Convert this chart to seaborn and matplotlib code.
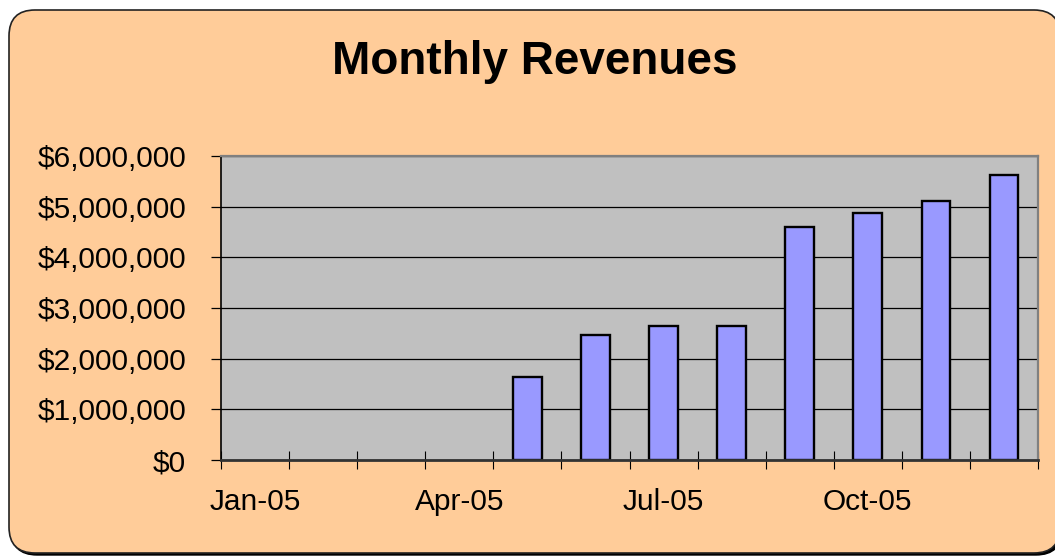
import numpy as np
import pandas as pd
import seaborn as sns
import matplotlib.pyplot as plt
from matplotlib.patches import FancyBboxPatch
from matplotlib.transforms import IdentityTransform
from matplotlib.ticker import FuncFormatter, MultipleLocator

# data
months = ["Jan-05", "Feb-05", "Mar-05", "Apr-05", "May-05", "Jun-05",
          "Jul-05", "Aug-05", "Sep-05", "Oct-05", "Nov-05", "Dec-05"]
revenue = [0, 0, 0, 0, 1630000, 2470000, 2650000, 2650000,
           4600000, 4880000, 5110000, 5620000]
shown_labels = months[::3]

df = pd.DataFrame({"month": months, "revenue": revenue})

plt.rcParams["font.family"] = ["Liberation Sans", "DejaVu Sans"]

fig = plt.figure(figsize=(10.55, 5.59), dpi=100)
fig.patch.set_facecolor("white")

# rounded chart-area background with a small shadow (pixel coords)
shadow = FancyBboxPatch((11, 4), 1051, 543, boxstyle="round,pad=0,rounding_size=26",
                        transform=IdentityTransform(), facecolor="black",
                        edgecolor="black", lw=1, zorder=-2)
panel = FancyBboxPatch((9, 6), 1051, 543, boxstyle="round,pad=0,rounding_size=26",
                       transform=IdentityTransform(), facecolor="#FFCC99",
                       edgecolor="#222222", lw=1.2, zorder=-1)
fig.add_artist(shadow)
fig.add_artist(panel)

ax = fig.add_axes([221 / 1055, 1 - 460 / 559, 817 / 1055, 304 / 559])
ax.set_facecolor("#C0C0C0")

sns.barplot(data=df, x="month", y="revenue", order=months, color="#9999FF",
            saturation=1, width=0.42, edgecolor="black", linewidth=1.7, ax=ax)
# empty months have no visible bar
for p in ax.patches:
    if p.get_height() == 0:
        p.set_edgecolor("none")

ax.set_xlim(-0.5, 11.5)
ax.set_ylim(0, 6000000)
ax.yaxis.set_major_locator(MultipleLocator(1000000))
ax.yaxis.set_major_formatter(FuncFormatter(lambda v, p: f"${v:,.0f}"))
ax.grid(axis="y", color="black", lw=0.9)
ax.set_axisbelow(True)

ax.set_xticks(range(0, 12, 3))
ax.set_xticklabels(shown_labels)
ax.set_xticks(np.arange(-0.5, 12, 1), minor=True)
ax.tick_params(axis="x", which="major", length=0, pad=20, labelsize=21.5)
ax.tick_params(axis="x", which="minor", direction="inout", length=13, width=0.8,
               color="black")
ax.tick_params(axis="y", length=7.2, width=0.9, pad=18, labelsize=21.5)
ax.set_xlabel("")
ax.set_ylabel("")

ax.spines["left"].set_color("black")
ax.spines["left"].set_linewidth(1.2)
ax.spines["bottom"].set_color("#333333")
ax.spines["bottom"].set_linewidth(2)
for s in ["top", "right"]:
    ax.spines[s].set_color("#808080")
    ax.spines[s].set_linewidth(1.6)

fig.text(535 / 1055, 1 - 74 / 559, "Monthly Revenues", ha="center", va="baseline",
         fontsize=33, fontweight="bold")

fig.savefig("out.png", dpi=100)
